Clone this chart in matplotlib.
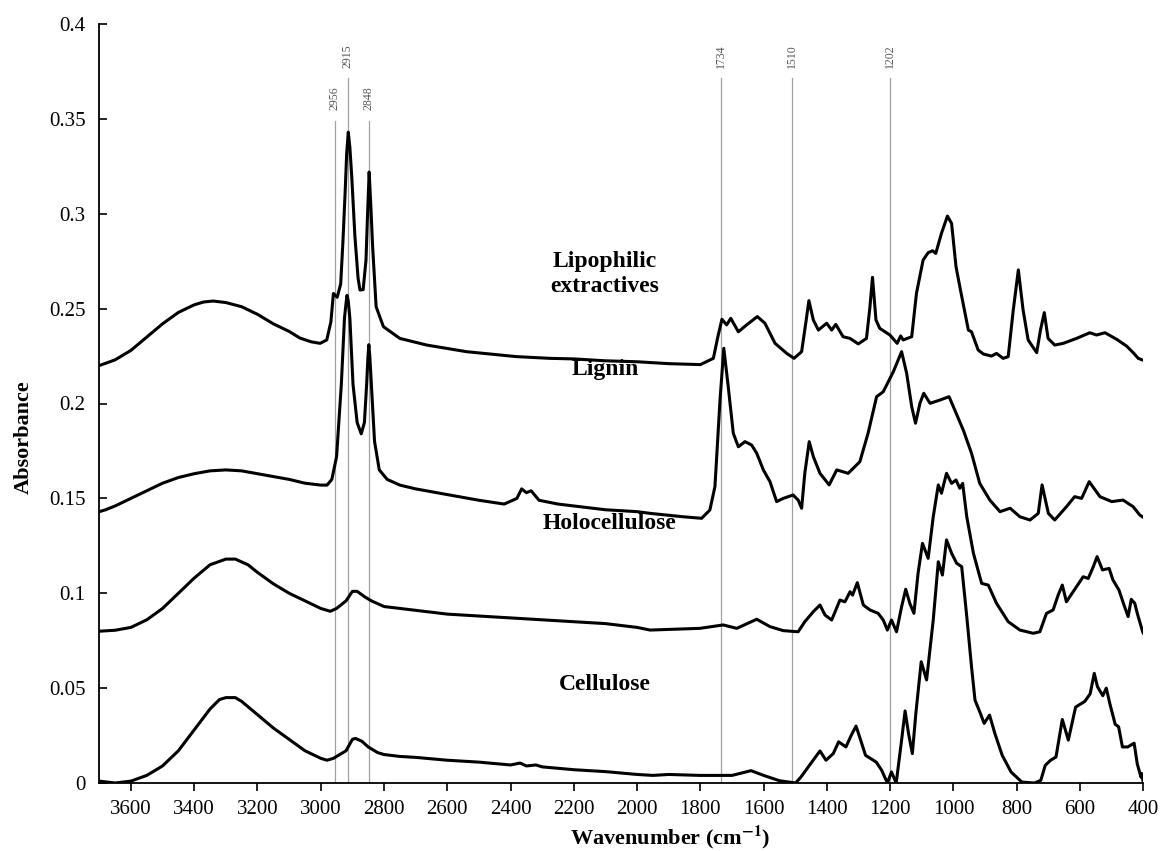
import matplotlib
matplotlib.use("Agg")
import matplotlib.pyplot as plt
from matplotlib.ticker import FixedLocator, FuncFormatter

# DATA
LIPO_WN = [3700, 3650, 3600, 3550, 3500, 3450, 3400, 3370, 3340, 3300, 3250, 3200, 3150, 3100, 3066, 3030,
           3002, 2981, 2968, 2960, 2948, 2937, 2930, 2923, 2918, 2913, 2908, 2902, 2892, 2882, 2876, 2866,
           2857, 2852, 2847, 2842, 2836, 2825, 2802, 2750, 2665, 2539, 2381, 2276, 2200, 2100, 2000, 1900,
           1800, 1759, 1745, 1732, 1717, 1704, 1680, 1654, 1620, 1596, 1564, 1527, 1504, 1480, 1467, 1457,
           1443, 1427, 1401, 1385, 1372, 1349, 1327, 1301, 1275, 1264, 1256, 1245, 1233, 1201, 1178, 1167,
           1159, 1132, 1117, 1096, 1080, 1066, 1056, 1038, 1019, 1006, 992, 980, 953, 943, 922, 906, 880, 864,
           843, 827, 811, 795, 780, 764, 737, 725, 713, 701, 680, 653, 611, 569, 548, 521, 484, 453, 432, 416,
           402]
LIPO_ABS = [0.220, 0.223, 0.228, 0.235, 0.242, 0.248, 0.252, 0.2535, 0.254, 0.2532, 0.251, 0.247, 0.242, 0.238,
            0.2345, 0.2325, 0.2317, 0.2335, 0.243, 0.258, 0.256, 0.263, 0.285, 0.311, 0.332, 0.343, 0.335,
            0.3195, 0.288, 0.266, 0.2598, 0.260, 0.2756, 0.300, 0.322, 0.305, 0.2826, 0.251, 0.2405, 0.2343,
            0.2308, 0.2273, 0.2247, 0.2238, 0.2235, 0.2225, 0.222, 0.221, 0.2205, 0.2238, 0.235, 0.2444,
            0.2414, 0.2449, 0.2378, 0.2414, 0.2458, 0.2423, 0.2317, 0.2264, 0.2238, 0.2273, 0.2423, 0.2542,
            0.2440, 0.2387, 0.2423, 0.2387, 0.2417, 0.2352, 0.2343, 0.2314, 0.2343, 0.2510, 0.2665, 0.2440,
            0.2396, 0.2361, 0.2317, 0.2356, 0.2335, 0.2352, 0.2581, 0.2756, 0.2795, 0.2805, 0.2791, 0.2897,
            0.2988, 0.2949, 0.2721, 0.2616, 0.2387, 0.2378, 0.2282, 0.2261, 0.2250, 0.2264, 0.2238, 0.2247,
            0.2493, 0.2704, 0.2493, 0.2335, 0.2268, 0.2387, 0.2479, 0.2343, 0.2308, 0.2317, 0.2343, 0.2373,
            0.2361, 0.2373, 0.2338, 0.2303, 0.2268, 0.2238, 0.2229]

LIGNIN_WN = [3700, 3680, 3650, 3600, 3550, 3500, 3450, 3400, 3350, 3300, 3250, 3200, 3150, 3100, 3050, 3000,
             2980, 2965, 2950, 2935, 2925, 2920, 2917, 2913, 2908, 2898, 2885, 2872, 2862, 2855, 2851, 2848,
             2845, 2840, 2830, 2815, 2790, 2750, 2700, 2600, 2500, 2420, 2380, 2365, 2350, 2335, 2310, 2250,
             2200, 2100, 2000, 1959, 1854, 1796, 1770, 1754, 1738, 1726, 1712, 1696, 1680, 1659, 1638, 1622,
             1601, 1580, 1559, 1538, 1507, 1491, 1480, 1470, 1456, 1443, 1422, 1393, 1369, 1333, 1296, 1270,
             1243, 1222, 1190, 1164, 1148, 1132, 1120, 1106, 1094, 1074, 1043, 1014, 996, 969, 943, 917, 885,
             853, 821, 790, 758, 732, 720, 700, 680, 643, 617, 595, 571, 537, 500, 464, 432, 411, 400]
LIGNIN_ABS = [0.143, 0.144, 0.146, 0.150, 0.154, 0.158, 0.161, 0.163, 0.1645, 0.165, 0.1645, 0.163, 0.1615,
              0.160, 0.158, 0.157, 0.157, 0.160, 0.172, 0.210, 0.245, 0.253, 0.257, 0.254, 0.245, 0.210, 0.190,
              0.184, 0.190, 0.210, 0.224, 0.231, 0.225, 0.210, 0.180, 0.165, 0.160, 0.157, 0.155, 0.152, 0.149,
              0.147, 0.150, 0.155, 0.153, 0.154, 0.149, 0.147, 0.146, 0.144, 0.143, 0.1421, 0.1403, 0.1395,
              0.1439, 0.1562, 0.2018, 0.2291, 0.2089, 0.1843, 0.1772, 0.1799, 0.1781, 0.1738, 0.1650, 0.1588,
              0.1483, 0.1500, 0.1518, 0.1491, 0.1448, 0.1632, 0.1799, 0.1720, 0.1632, 0.1571, 0.1650, 0.1632,
              0.1693, 0.1843, 0.2036, 0.2062, 0.2168, 0.2273, 0.2159, 0.1983, 0.1896, 0.2001, 0.2054, 0.2001,
              0.2018, 0.2036, 0.1966, 0.1860, 0.1738, 0.1579, 0.1491, 0.1430, 0.1448, 0.1403, 0.1386, 0.1421,
              0.1571, 0.1421, 0.1386, 0.1456, 0.1509, 0.1500, 0.1588, 0.1509, 0.1483, 0.1491, 0.1456, 0.1412,
              0.1400]

HOLO_WN = [3700, 3650, 3600, 3550, 3500, 3450, 3400, 3350, 3300, 3270, 3230, 3200, 3150, 3100, 3050, 3000,
           2970, 2950, 2920, 2900, 2885, 2860, 2840, 2800, 2750, 2700, 2600, 2500, 2400, 2300, 2200, 2100,
           2000, 1959, 1802, 1728, 1685, 1622, 1580, 1538, 1491, 1470, 1443, 1422, 1406, 1385, 1359, 1343,
           1327, 1319, 1304, 1285, 1264, 1238, 1222, 1209, 1196, 1180, 1164, 1151, 1138, 1125, 1112, 1098,
           1080, 1064, 1048, 1038, 1022, 1006, 992, 980, 971, 958, 937, 911, 890, 864, 827, 790, 748, 727,
           706, 685, 669, 656, 643, 611, 590, 574, 558, 546, 529, 508, 496, 477, 461, 448, 438, 427, 419,
           402, 400]
HOLO_ABS = [0.080, 0.0805, 0.082, 0.086, 0.092, 0.100, 0.108, 0.115, 0.118, 0.118, 0.115, 0.111, 0.105, 0.100,
            0.096, 0.092, 0.0905, 0.092, 0.096, 0.101, 0.101, 0.098, 0.096, 0.093, 0.092, 0.091, 0.089, 0.088,
            0.087, 0.086, 0.085, 0.084, 0.082, 0.0806, 0.0815, 0.0833, 0.0815, 0.0863, 0.0824, 0.0803, 0.0797,
            0.0850, 0.0903, 0.0938, 0.0885, 0.0859, 0.0964, 0.0955, 0.1008, 0.0990, 0.1056, 0.0938, 0.0912,
            0.0894, 0.0859, 0.0806, 0.0859, 0.0797, 0.0929, 0.1021, 0.0947, 0.0894, 0.1105, 0.1263, 0.1184,
            0.1403, 0.1571, 0.1527, 0.1632, 0.1579, 0.1597, 0.1553, 0.1579, 0.1403, 0.1211, 0.1052, 0.1043,
            0.0947, 0.0850, 0.0806, 0.0789, 0.0797, 0.0894, 0.0912, 0.0991, 0.1043, 0.0955, 0.1035, 0.1087,
            0.1078, 0.1140, 0.1193, 0.1123, 0.1131, 0.1070, 0.1017, 0.0938, 0.0877, 0.0968, 0.0947, 0.0894,
            0.0797, 0.079]

CELL_WN = [3700, 3650, 3600, 3550, 3500, 3450, 3400, 3350, 3320, 3300, 3270, 3250, 3200, 3150, 3100, 3050,
           3000, 2980, 2960, 2940, 2920, 2900, 2890, 2870, 2850, 2820, 2800, 2750, 2700, 2600, 2500, 2400,
           2370, 2350, 2320, 2300, 2200, 2100, 2000, 1950, 1900, 1800, 1740, 1700, 1640, 1600, 1550, 1499,
           1482, 1448, 1422, 1403, 1380, 1363, 1340, 1323, 1308, 1295, 1278, 1244, 1227, 1209, 1196, 1181,
           1164, 1153, 1142, 1130, 1119, 1102, 1085, 1064, 1048, 1035, 1022, 1006, 990, 974, 958, 943, 932,
           915, 903, 886, 869, 846, 818, 784, 744, 724, 710, 693, 676, 656, 637, 614, 585, 568, 555, 545,
           528, 517, 506, 489, 478, 466, 449, 429, 419, 407, 405, 400]
CELL_ABS = [0.001, 0.000, 0.001, 0.004, 0.009, 0.017, 0.028, 0.039, 0.044, 0.045, 0.045, 0.043, 0.036, 0.029,
            0.023, 0.017, 0.013, 0.012, 0.013, 0.015, 0.017, 0.023, 0.0235, 0.022, 0.019, 0.016, 0.015, 0.014,
            0.0135, 0.012, 0.011, 0.0095, 0.0105, 0.009, 0.0095, 0.0085, 0.007, 0.006, 0.0045, 0.004, 0.0045,
            0.004, 0.004, 0.004, 0.0065, 0.004, 0.0012, 0.0, 0.0032, 0.011, 0.0169, 0.012, 0.0155, 0.0217,
            0.019, 0.0252, 0.030, 0.0234, 0.0146, 0.011, 0.0067, 0.0, 0.0058, 0.0, 0.0226, 0.038, 0.026,
            0.0155, 0.0366, 0.0639, 0.0543, 0.0859, 0.1166, 0.1096, 0.1281, 0.1211, 0.1158, 0.1140, 0.0877,
            0.0613, 0.0437, 0.0367, 0.0314, 0.0358, 0.026, 0.0146, 0.0058, 0.0005, 0.0, 0.0014, 0.0093, 0.012,
            0.0137, 0.0335, 0.0226, 0.040, 0.043, 0.047, 0.0578, 0.0508, 0.046, 0.050, 0.042, 0.031, 0.0296,
            0.019, 0.019, 0.021, 0.010, 0.003, 0.005, 0.0]

SERIES = [
    (LIPO_WN, LIPO_ABS, "Lipophilic\nextractives", 2102, 0.268),
    (LIGNIN_WN, LIGNIN_ABS, "Lignin", 2102, 0.218),
    (HOLO_WN, HOLO_ABS, "Holocellulose", 2086, 0.1365),
    (CELL_WN, CELL_ABS, "Cellulose", 2102, 0.052),
]

REF_WN = [2956, 2915, 2848, 1734, 1510, 1202]
REF_TOP = [0.349, 0.3715, 0.349, 0.3715, 0.3715, 0.3715]

X_TICKS = list(range(3600, 399, -200))
Y_TICKS = [0, 0.05, 0.1, 0.15, 0.2, 0.25, 0.3, 0.35, 0.4]

# STYLE
plt.rcParams["font.family"] = ["Liberation Serif", "DejaVu Serif"]
plt.rcParams["mathtext.fontset"] = "stix"

fig = plt.figure(figsize=(11.63, 8.51), dpi=100)
ax = fig.add_axes([99.3 / 1163, 1 - 783 / 851, 1044 / 1163, (783 - 24) / 851])

# reference lines
for wn, top in zip(REF_WN, REF_TOP):
    ax.plot([wn, wn], [0, top], color="#a0a0a0", lw=0.9, zorder=1)
    ax.text(wn, top + 0.0055, str(wn), rotation=90, ha="center", va="bottom",
            fontsize=8.5, color="#555555")

# spectra
for wn, ab, name, lx, ly in SERIES:
    ax.plot(wn, ab, color="black", lw=2.2, solid_joinstyle="round", zorder=3)
    ax.text(lx, ly, name, ha="center", va="center", fontsize=17, fontweight="bold",
            linespacing=1.25)

ax.set_xlim(3700, 400)
ax.set_ylim(0, 0.4)
ax.xaxis.set_major_locator(FixedLocator(X_TICKS))
ax.yaxis.set_major_locator(FixedLocator(Y_TICKS))
ax.yaxis.set_major_formatter(FuncFormatter(lambda v, p: f"{v:g}"))
ax.tick_params(axis="x", direction="out", length=6, width=1.2, labelsize=15, pad=6)
ax.tick_params(axis="y", direction="in", length=6, width=1.2, labelsize=15, pad=10)

for side in ["top", "right"]:
    ax.spines[side].set_visible(False)
for side in ["left", "bottom"]:
    ax.spines[side].set_linewidth(1.3)

ax.set_xlabel(r"Wavenumber (cm$^{\mathbf{-1}}$)", fontsize=16, fontweight="bold")
ax.xaxis.set_label_coords((670 - 99.3) / 1044, -(837 - 783) / 759, transform=ax.transAxes)
ax.xaxis.label.set_va("center")
ax.set_ylabel("Absorbance", fontsize=16, fontweight="bold")
ax.yaxis.set_label_coords(-(99.3 - 24) / 1044, (783 - 437) / 759, transform=ax.transAxes)
ax.yaxis.label.set_va("center")

plt.savefig("out.png", dpi=100)
plt.close()
